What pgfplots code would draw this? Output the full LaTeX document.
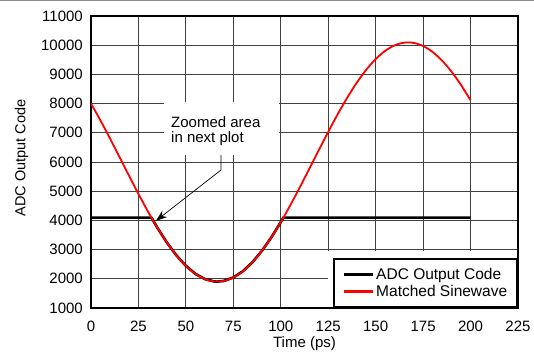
\documentclass[border=0pt]{standalone}
\usepackage{fontspec}
\setmainfont{Liberation Sans}
\usepackage{pgfplots}
\pgfplotsset{compat=1.18}
\usetikzlibrary{arrows.meta}
\begin{document}
\begin{tikzpicture}
\useasboundingbox (0,0) rectangle (534pt,351pt);
\draw[black!45, line width=1pt] (0,350.3pt) -- (534pt,350.3pt);
\begin{axis}[
  at={(91pt,43pt)}, anchor=south west,
  width=427pt, height=292pt, scale only axis,
  xmin=0, xmax=225, ymin=1000, ymax=11000,
  xtick={0,25,...,225}, ytick={1000,2000,...,11000},
  scaled ticks=false,
  grid=major, major grid style={black!75, line width=0.8pt},
  major tick length=0pt,
  axis line style={line width=2pt},
  /pgf/number format/assume math mode=true,
  /pgf/number format/1000 sep={},
  tick label style={font=\fontsize{15}{15}\selectfont, inner sep=0pt},
  xticklabel shift=13pt, yticklabel shift=8pt,
  xlabel={Time (ps)}, ylabel={ADC Output Code},
  xlabel style={font=\fontsize{15}{15}\selectfont, at={(axis description cs:0.5,-0.1336)}, anchor=base},
  ylabel style={font=\fontsize{14.5}{14.5}\selectfont, at={(axis description cs:-0.1534,0.514)}, anchor=base},
  legend style={at={(rel axis cs:1,0)}, anchor=south east, draw=black, line width=1.6pt, fill=white,
    font=\fontsize{15.5}{15.5}\selectfont, inner xsep=8pt, inner ysep=7.5pt, row sep=0pt, cells={anchor=west}},
  legend image code/.code={\draw[#1, line width=3pt] (0pt,0pt) -- (29pt,0pt);},
]
\fill[white] (axis cs:124.9,1040) rectangle (axis cs:224.4,2952);
\fill[white] (axis cs:38.5,6240) rectangle (axis cs:99,8050);
\addplot[black, line width=2.6pt, line join=round] coordinates {
(0,4095) (31.9,4095) (35,3745) (40,3240) (45,2803) (50,2443) (55,2170) (60,1991) (65,1909) (66.6,1904)
(70,1927) (75,2044) (80,2258) (85,2563) (90,2952) (95,3415) (100,3941) (101.3,4095) (200,4095)
};
\addlegendentry{ADC Output Code}
\addplot[red, line width=1.8pt, smooth] coordinates {
(0,8003) (5,7423) (10,6807) (15,6173) (20,5534) (25,4906) (30,4305) (35,3745) (40,3240) (45,2803)
(50,2443) (55,2170) (60,1991) (65,1909) (70,1927) (75,2044) (80,2258) (85,2563) (90,2952) (95,3415)
(100,3941) (105,4517) (110,5130) (115,5763) (120,6403) (125,7032) (130,7637) (135,8201) (140,8712)
(145,9157) (150,9525) (155,9806) (160,9996) (165,10087) (170,10079) (175,9972) (180,9767) (185,9471)
(190,9091) (195,8635) (200,8114)
};
\addlegendentry{Matched Sinewave}
\node[anchor=north west, inner sep=0pt, align=left, font=\fontsize{15}{15}\selectfont] at (axis cs:42.15,7575) {Zoomed area\\in next plot};
\draw[line width=0.7pt, -{Stealth[length=11pt,width=8pt]}] (axis cs:68.5,6240) -- (axis cs:68.5,5726) -- (axis cs:34.3,3990);
\end{axis}
\end{tikzpicture}
\end{document}
